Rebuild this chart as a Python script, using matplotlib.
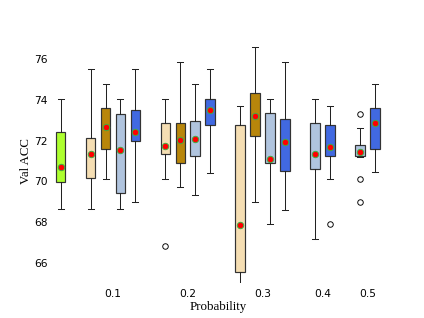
import matplotlib.pyplot as plt
import numpy as np

# 每个箱子的统计量
names = ['base', 'a0.1', 'b0.1', 'c0.1', 'd0.1',
         'a0.2', 'b0.2', 'c0.2', 'd0.2',
         'a0.3', 'b0.3', 'c0.3', 'd0.3',
         'c0.4', 'd0.4', 'c0.5', 'd0.5']
whislo = [68.6, 68.6, 70.06, 68.6, 68.97,
          70.06, 69.7, 69.31, 70.4,
          64.8, 68.97, 67.89, 68.59,
          67.16, 70.06, 71.15, 70.41]
q1 = [69.94, 70.12, 71.57, 69.41, 71.94,
      71.31, 70.85, 71.21, 72.74,
      65.55, 72.2, 70.85, 70.48,
      70.58, 71.21, 71.23, 71.57]
means = [70.69, 71.29, 72.64, 71.49, 72.4,
         71.7, 71.98, 72.06, 73.44,
         67.84, 73.15, 71.05, 71.91,
         71.31, 71.63, 71.39, 72.82]
q3 = [72.38, 72.09, 73.55, 73.28, 73.45,
      72.84, 72.84, 72.92, 74.01,
      72.74, 74.28, 73.29, 73.02,
      72.84, 72.74, 71.75, 73.55]
whishi = [74.01, 75.44, 74.72, 74.01, 75.44,
          74.01, 75.8, 74.72, 75.44,
          73.65, 76.55, 73.99, 75.81,
          73.99, 73.67, 72.56, 74.72]
fliers = [[], [], [], [], [],
          [66.79], [], [], [],
          [], [], [], [],
          [], [67.88], [73.28, 70.06, 68.95], []]
positions = [0, 2, 3, 4, 5, 7, 8, 9, 10, 12, 13, 14, 15, 17, 18, 20, 21]
colors = ['greenyellow'] + ['wheat', 'darkgoldenrod', 'lightsteelblue', 'royalblue'] * 3 \
         + ['lightsteelblue', 'royalblue'] * 2
probs = ['0.1', '0.2', '0.3', '0.4', '0.5']
prob_pos = [3.5, 8.5, 13.5, 17.5, 20.5]

stats = []
for i in range(len(names)):
    stats.append({'label': names[i], 'whislo': whislo[i], 'q1': q1[i], 'med': means[i],
                  'q3': q3[i], 'whishi': whishi[i], 'mean': means[i], 'fliers': fliers[i]})

fig = plt.figure(figsize=(6.4, 4.8), dpi=66.4)
ax = fig.add_subplot(111)
bp = ax.bxp(stats, positions=positions, widths=0.65, patch_artist=True, showmeans=True,
            capwidths=0.4,
            boxprops=dict(edgecolor='#333333', linewidth=1.3),
            whiskerprops=dict(color='#222222', linewidth=1.1),
            capprops=dict(color='#222222', linewidth=1.1),
            medianprops=dict(linewidth=0),
            meanprops=dict(marker='o', markerfacecolor='red', markeredgecolor='#3cb043',
                           markersize=7, markeredgewidth=1),
            flierprops=dict(marker='o', markerfacecolor='none', markeredgecolor='black',
                            markersize=6, markeredgewidth=1))
for patch, c in zip(bp['boxes'], colors):
    patch.set_facecolor(c)

ax.set_xlim(-0.5, 21.5)
ax.set_ylim(65, 77)
ax.set_xticks(prob_pos)
ax.set_xticklabels(probs)
ax.set_yticks(np.arange(66, 77, 2))
ax.tick_params(length=0, labelsize=11.5, pad=6)
for s in ax.spines.values():
    s.set_visible(False)
ax.set_xlabel('Probability', family='Liberation Serif', fontsize=14, labelpad=2)
ax.set_ylabel('Val ACC', family='Liberation Serif', fontsize=14, labelpad=2)

plt.savefig('out.png')
